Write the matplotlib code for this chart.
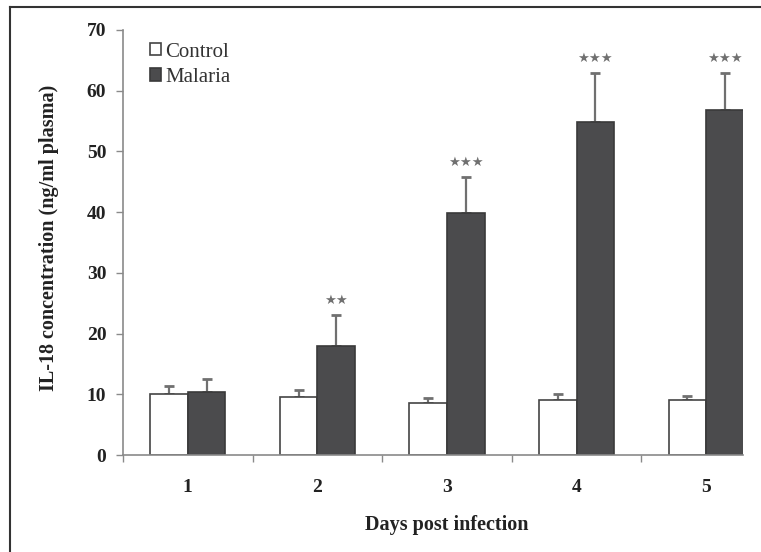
import matplotlib
matplotlib.use("Agg")
import matplotlib.pyplot as plt
from matplotlib.lines import Line2D
from matplotlib import font_manager as fm
import numpy as np

days = ["1", "2", "3", "4", "5"]
control = [10.0, 9.5, 8.6, 9.0, 9.0]
control_err = [1.4, 1.2, 0.8, 1.0, 0.8]
malaria = [10.4, 18.0, 39.9, 54.8, 56.8]
malaria_err = [2.1, 5.0, 5.9, 8.1, 6.1]
signif = ["", "★★", "★★★", "★★★", "★★★"]
yticks = [0, 10, 20, 30, 40, 50, 60, 70]

plt.rcParams['font.family'] = ['Liberation Serif', 'DejaVu Serif']

W, H = 761, 552
fig = plt.figure(figsize=(W / 100, H / 100), dpi=100)
ax = fig.add_axes([123 / W, 1 - 455 / H, 620 / W, 425 / H])

x = np.arange(len(days))
bw = 0.29
axis_col = "#8a8a8a"
dark = "#4b4b4d"

ax.bar(x - bw / 2, control, bw, color="white", edgecolor="#444444", linewidth=1.2,
       label="Control", zorder=2)
ax.bar(x + bw / 2, malaria, bw, color=dark, edgecolor="#3a3a3a", linewidth=1.2,
       label="Malaria", zorder=2)
ax.errorbar(x - bw / 2, control, yerr=[np.zeros(len(x)), control_err], fmt="none",
            ecolor="#707070", elinewidth=1.6, capsize=3.5, capthick=2, zorder=1)
ax.errorbar(x + bw / 2, malaria, yerr=[np.zeros(len(x)), malaria_err], fmt="none",
            ecolor="#707070", elinewidth=1.6, capsize=3.5, capthick=2, zorder=1)

for xi, m, e, s in zip(x, malaria, malaria_err, signif):
    if s:
        ax.annotate(s, (xi + bw / 2, m + e), xytext=(0, 6), textcoords="offset points",
                    ha="center", va="bottom", fontsize=9.5, color="#707070",
                    family=["DejaVu Sans"])

ax.set_xlim(-0.5, 4.5 - 28 / 130)
ax.set_ylim(0, 70)
ax.set_yticks(yticks)
ax.set_yticklabels([str(v) for v in yticks], fontsize=14, fontweight="bold", color="#222222")
ax.set_xticks(x)
ax.set_xticklabels(days, fontsize=14, fontweight="bold", color="#222222")
ax.tick_params(axis="x", length=0, pad=17)
ax.set_xticks(np.arange(-0.5, 4.0, 1.0), minor=True)
ax.tick_params(axis="x", which="minor", length=5, color=axis_col, width=1, direction="out")
ax.tick_params(axis="y", length=5, color=axis_col, width=1, pad=7, direction="out")

for side in ["top", "right"]:
    ax.spines[side].set_visible(False)
for side in ["left", "bottom"]:
    ax.spines[side].set_color(axis_col)
    ax.spines[side].set_linewidth(1.2)

fig.text(49 / W, 1 - 238 / H, "IL-18 concentration (ng/ml plasma)", rotation=90,
         ha="center", va="center", fontsize=14.5, fontweight="bold", color="#222222")
fig.text(447 / W, 1 - 525 / H, "Days post infection", ha="center", va="center",
         fontsize=14.5, fontweight="bold", color="#222222")

serif_path = fm.findfont(fm.FontProperties(family="Liberation Serif", weight="normal"))
leg_prop = fm.FontProperties(fname=serif_path, size=15)
leg = ax.legend(loc="upper left", bbox_to_anchor=(0.03, 0.99), frameon=False,
                prop=leg_prop, handlelength=0.55, handleheight=0.55, handletextpad=0.2,
                labelspacing=0.3, borderaxespad=0)
for t in leg.get_texts():
    t.set_color("#333333")

fig.add_artist(Line2D([10 / W, 10 / W], [1 - 7 / H, 0], color="#333333", lw=1.5))
fig.add_artist(Line2D([10 / W, 1], [1 - 7 / H, 1 - 7 / H], color="#333333", lw=1.5))

fig.savefig("out.png", dpi=100)
